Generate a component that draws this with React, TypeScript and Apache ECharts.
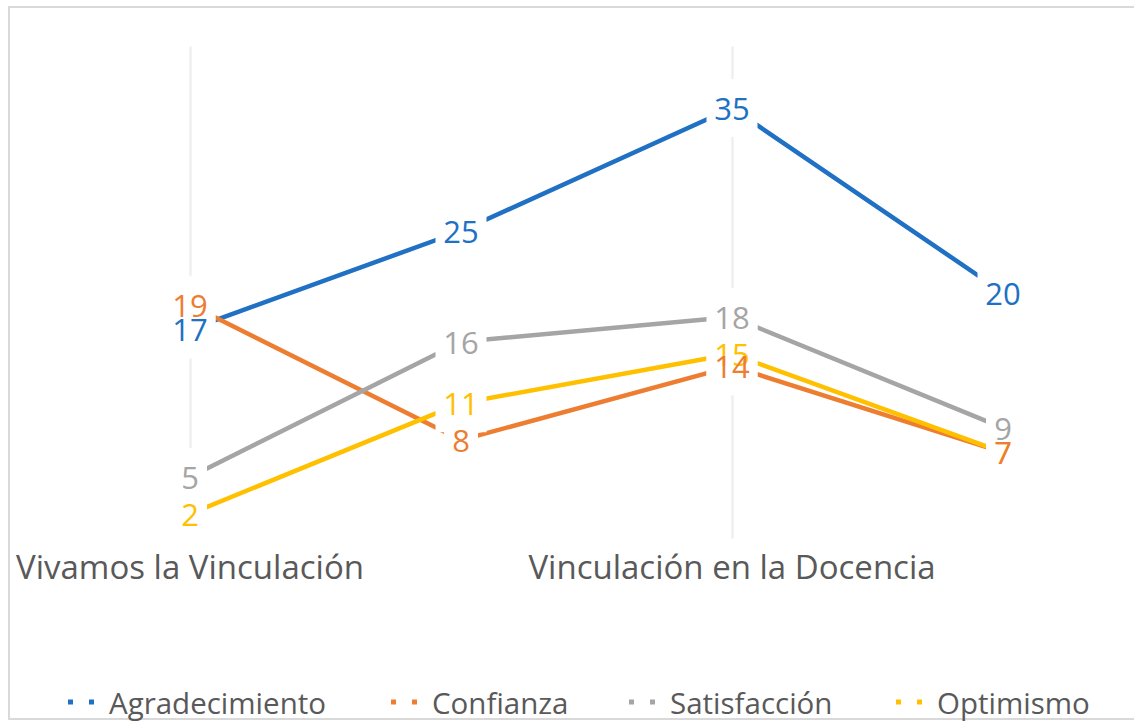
import React, { useEffect, useRef } from "react";
import * as echarts from "echarts";

const categories = ["Vivamos la Vinculación", " ", "Vinculación en la Docencia", "  "];
const agradecimiento = [17, 25, 35, 20];
const confianza = [19, 8, 14, 7];
const satisfaccion = [5, 16, 18, 9];
const optimismo = [2, 11, 15, 7];

const seriesNames = ["Agradecimiento", "Confianza", "Satisfacción", "Optimismo"];
const seriesColors = ["#2070C4", "#ED7D31", "#A5A5A5", "#FFC000"];

const FONT = '"Open Sans", Lato, sans-serif';

export default function App() {
  const ref = useRef<HTMLDivElement>(null);
  useEffect(() => {
    if (!ref.current) return;
    const chart = echarts.init(ref.current, undefined, { renderer: "svg" });
    const values = [agradecimiento, confianza, satisfaccion, optimismo];

    // line series: their labels are blank white boxes that cut the lines around the values
    const lineSeries = values.map((d, i) => ({
      name: seriesNames[i],
      type: "line",
      data: d,
      z: 2,
      symbol: "circle",
      symbolSize: 2,
      showSymbol: true,
      itemStyle: { color: seriesColors[i] },
      lineStyle: { color: seriesColors[i], width: 4.5 },
      label: {
        show: true,
        position: "inside",
        formatter: (p: any) => (String(p.value).length > 1 ? "{w2| }" : "{w1| }"),
        rich: {
          w1: { width: 18, height: 30, fontSize: 31, fontFamily: FONT },
          w2: { width: 35, height: 30, fontSize: 31, fontFamily: FONT },
        },
        backgroundColor: "#ffffff",
        padding: [14, 8],
      },
      emphasis: { disabled: true },
    }));

    // value texts drawn on top (orange last so it sits above overlapping labels)
    const labelOrder = [0, 2, 3, 1];
    const labelSeries = labelOrder.map((i) => ({
      name: seriesNames[i] + " etiqueta",
      type: "scatter",
      data: values[i],
      z: 5,
      symbolSize: 1,
      itemStyle: { color: "rgba(0,0,0,0)", opacity: 1 },
      label: {
        show: true,
        position: "inside",
        color: seriesColors[i],
        fontFamily: FONT,
        fontSize: 31,
      },
      emphasis: { disabled: true },
    }));

    const legendLefts = [63, 386, 624, 891];
    const legends = seriesNames.map((n, i) => ({
      data: [n],
      left: legendLefts[i],
      top: 682,
      itemWidth: 26,
      itemHeight: 5,
      icon: "path://M0,0h5v5h-5zM21,0h5v5h-5z",
      textStyle: {
        color: "#595959",
        fontSize: 29.5,
        fontFamily: FONT,
        padding: [0, 0, 0, 10],
      },
      selectedMode: false,
    }));

    chart.setOption({
      animation: false,
      backgroundColor: "#ffffff",
      textStyle: { fontFamily: FONT },
      graphic: [
        {
          type: "rect",
          shape: { x: 9, y: 7, width: 1200, height: 712 },
          style: { fill: "none", stroke: "#D9D9D9", lineWidth: 2 },
          silent: true,
          z: 0,
        },
      ],
      grid: { left: 190, right: 131, top: 46.5, height: 492 },
      legend: legends,
      xAxis: {
        type: "category",
        data: categories,
        boundaryGap: false,
        axisLine: { show: false },
        axisTick: { show: false },
        axisLabel: {
          interval: 1,
          color: "#595959",
          fontSize: 33,
          fontFamily: FONT,
          margin: 11,
        },
        splitLine: { show: true, lineStyle: { color: "#EFEFEF", width: 2.5 } },
      },
      yAxis: {
        type: "value",
        min: 0,
        max: 40,
        show: false,
        splitLine: { show: false },
      },
      series: [...lineSeries, ...labelSeries],
    });
    return () => chart.dispose();
  }, []);
  return (
    <div
      ref={ref}
      style={{ position: "absolute", left: 0, top: 0, width: 1134, height: 721 }}
    />
  );
}
